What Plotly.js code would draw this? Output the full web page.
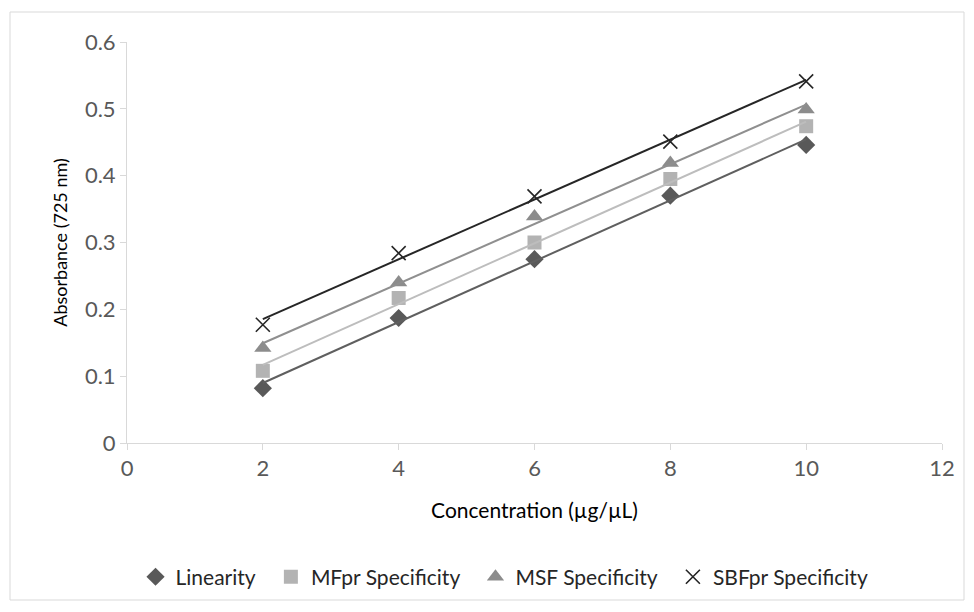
<!DOCTYPE html>
<html>
<head>
<meta charset="utf-8">
<script src="https://cdn.plot.ly/plotly-3.0.1.min.js"></script>
<style>
html,body{margin:0;padding:0;background:#fff;}
#chart{width:974px;height:612px;}
</style>
</head>
<body>
<div id="chart"></div>
<script>
const concentration = [2, 4, 6, 8, 10];
const linearity = [0.082, 0.187, 0.275, 0.370, 0.446];
const mfprSpecificity = [0.108, 0.217, 0.300, 0.395, 0.474];
const msfSpecificity = [0.142, 0.240, 0.339, 0.419, 0.499];
const sbfprSpecificity = [0.177, 0.284, 0.369, 0.451, 0.541];
const seriesNames = ['Linearity', 'MFpr Specificity', 'MSF Specificity', 'SBFpr Specificity'];
const xTickVals = [0, 2, 4, 6, 8, 10, 12];
const yTickVals = [0, 0.1, 0.2, 0.3, 0.4, 0.5, 0.6];

const seriesData = [linearity, mfprSpecificity, msfSpecificity, sbfprSpecificity];
const styles = [
  {symbol: 'diamond', size: 14, color: '#595959', line: '#5f5f5f'},
  {symbol: 'square', size: 14, color: '#b3b3b3', line: '#bdbdbd'},
  {symbol: 'triangle-up', size: 15, color: '#8c8c8c', line: '#8f8f8f'},
  {symbol: 'x-thin', size: 14, color: '#262626', line: '#262626'}
];

function fit(xs, ys) {
  const n = xs.length;
  const mx = xs.reduce((a, b) => a + b, 0) / n;
  const my = ys.reduce((a, b) => a + b, 0) / n;
  let sxy = 0, sxx = 0;
  for (let i = 0; i < n; i++) { sxy += (xs[i] - mx) * (ys[i] - my); sxx += (xs[i] - mx) ** 2; }
  const m = sxy / sxx, b = my - m * mx;
  const x0 = xs[0], x1 = xs[n - 1];
  return {x: [x0, x1], y: [m * x0 + b, m * x1 + b]};
}

const pad = '\u00a0\u00a0';
const traces = [];
seriesData.forEach((ys, i) => {
  const s = styles[i];
  traces.push({
    x: concentration, y: ys, type: 'scatter', mode: 'markers',
    name: i < seriesData.length - 1 ? seriesNames[i] + pad : seriesNames[i],
    marker: s.symbol === 'x-thin'
      ? {symbol: s.symbol, size: s.size, color: s.color, line: {color: s.color, width: 1.6}}
      : {symbol: s.symbol, size: s.size, color: s.color, line: {width: 0}}
  });
});
seriesData.forEach((ys, i) => {
  const f = fit(concentration, ys);
  traces.push({
    x: f.x, y: f.y, type: 'scatter', mode: 'lines', showlegend: false, hoverinfo: 'skip',
    line: {color: styles[i].line, width: 2}
  });
});

const fontFam = 'Lato, "Open Sans", sans-serif';
const layout = {
  width: 974, height: 612,
  margin: {l: 127, r: 32, t: 42, b: 169},
  paper_bgcolor: '#ffffff', plot_bgcolor: '#ffffff',
  font: {family: fontFam, color: '#595959', size: 20},
  showlegend: true,
  legend: {
    orientation: 'h', xref: 'container', yref: 'container',
    x: 0.518, xanchor: 'center', y: 0.057, yanchor: 'middle',
    font: {family: fontFam, size: 21, color: '#262626'},
    itemwidth: 30, tracegroupgap: 0, traceorder: 'normal'
  },
  xaxis: {
    range: [0, 12], tickvals: xTickVals, ticktext: xTickVals.map(String),
    showgrid: false, zeroline: false, showline: true, linecolor: '#d9d9d9', linewidth: 1,
    ticks: 'outside', ticklen: 6, tickcolor: '#d9d9d9', tickfont: {size: 22, color: '#595959'},
    title: {text: 'Concentration (µg/µL)', font: {size: 21, color: '#000000'}, standoff: 22}
  },
  yaxis: {
    range: [0, 0.6], tickvals: yTickVals, ticktext: yTickVals.map(v => String(v)),
    showgrid: false, zeroline: false, showline: true, linecolor: '#d9d9d9', linewidth: 1,
    ticks: 'outside', ticklen: 6, tickcolor: '#d9d9d9', tickfont: {size: 22, color: '#595959'},
    title: {text: 'Absorbance (725 nm)', font: {size: 18, color: '#000000'}, standoff: 12}
  },
  shapes: [{
    type: 'rect', xref: 'paper', yref: 'paper',
    x0: (10 - 127) / 815, x1: (964 - 127) / 815,
    y0: (443 - 600) / 401, y1: (443 - 12) / 401,
    line: {color: '#d9d9d9', width: 1}, fillcolor: 'rgba(0,0,0,0)', layer: 'below'
  }]
};

Plotly.newPlot('chart', traces, layout, {displayModeBar: false, staticPlot: true});
</script>
</body>
</html>
